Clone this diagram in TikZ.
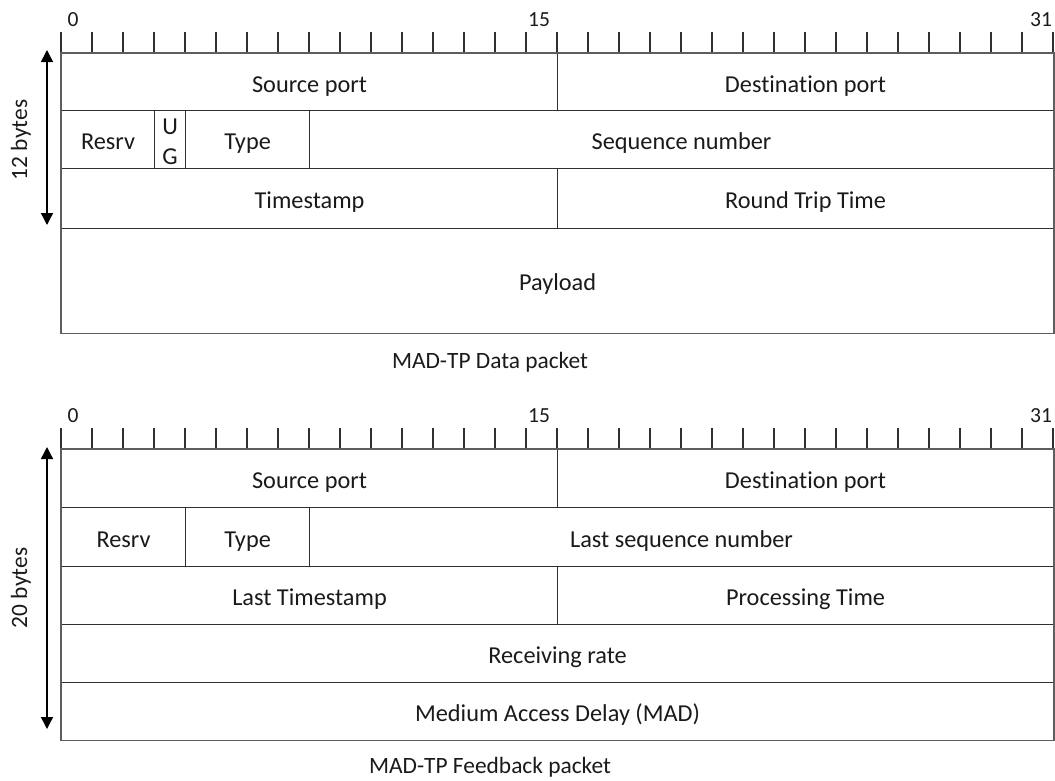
\documentclass[tikz,border=0pt]{standalone}
\usepackage{fontspec}
\setmainfont{Carlito}[Ligatures=NoCommon]
\usetikzlibrary{arrows.meta}
\definecolor{innerc}{HTML}{303030}
\definecolor{outerc}{HTML}{5E5E5E}
\definecolor{txtc}{HTML}{1A1A1A}
\tikzset{
  fieldbase/.style={draw=innerc, line width=1.1pt, anchor=north west, inner sep=0pt,
    text=txtc, font=\fontsize{24.3}{30}\selectfont, align=center},
  field/.style={fieldbase, text height=20.4pt, text depth=0pt},
  border/.style={draw=outerc, line width=1.6pt},
  tick/.style={draw=innerc, line width=1.1pt},
  bitnum/.style={text=txtc, font=\fontsize{21.5}{24}\selectfont, inner sep=0pt},
  caption/.style={text=txtc, font=\fontsize{23.4}{26}\selectfont, inner sep=0pt},
  bytelabel/.style={text=txtc, font=\fontsize{23.4}{26}\selectfont, inner sep=0pt, rotate=90},
  bytearrow/.style={draw=black, line width=1.4pt,
    {Triangle[length=12pt,width=12pt]}-{Triangle[length=12pt,width=12pt]}},
}
\newcommand{\fld}[7][field]{%
  \node[#1, minimum width={(#5-#3)*1pt}, minimum height={(#6-#4)*1pt}] (#2) at (#3,#4) {#7};}
\begin{document}
\begin{tikzpicture}[x=1pt,y=-1pt]
\useasboundingbox (0,0) rectangle (1055,780);
% ---------- Data packet ----------
\foreach \i in {0,...,32} \draw[tick] (61+31*\i,32) -- (61+31*\i,53);
\node[bitnum] (d0) at (73,20) {0};
\node[bitnum] (d15) at (539,20) {15};
\node[bitnum] (d31) at (1041,20) {31};
\fld{dsrc}{61}{53}{557}{110}{Source port}
\fld{ddst}{557}{53}{1053}{110}{Destination port}
\fld{dres}{61}{110}{154}{168}{Resrv}
\fld[fieldbase]{dug}{154}{110}{185}{168}{\rule{0pt}{21pt}U\\G}
\fld{dtype}{185}{110}{309}{168}{Type}
\fld{dseq}{309}{110}{1053}{168}{Sequence number}
\fld{dts}{61}{168}{557}{227.5}{Timestamp}
\fld{drtt}{557}{168}{1053}{227.5}{Round Trip Time}
\fld{dpay}{61}{227.5}{1053}{332.5}{Payload}
\draw[border] (dsrc.north west) rectangle (dpay.south east);
\coordinate (dat) at (47,50);
\coordinate (dab) at (47,225);
\draw[bytearrow] (dab) -- (dat);
\node[bytelabel] (dbl) at (21,140) {12 bytes};
\node[caption] (dcap) at (490,362) {MAD-TP Data packet};
% ---------- Feedback packet ----------
\foreach \i in {0,...,32} \draw[tick] (61+31*\i,428) -- (61+31*\i,449);
\node[bitnum] (f0) at (73,416) {0};
\node[bitnum] (f15) at (539,416) {15};
\node[bitnum] (f31) at (1041,416) {31};
\fld{fsrc}{61}{449}{557}{507}{Source port}
\fld{fdst}{557}{449}{1053}{507}{Destination port}
\fld{fres}{61}{507}{185}{566}{Resrv}
\fld{ftype}{185}{507}{309}{566}{Type}
\fld{fseq}{309}{507}{1053}{566}{Last sequence number}
\fld{fts}{61}{566}{557}{624}{Last Timestamp}
\fld{fpt}{557}{566}{1053}{624}{Processing Time}
\fld{frr}{61}{624}{1053}{682}{Receiving rate}
\fld{fmad}{61}{682}{1053}{739.5}{Medium Access Delay (MAD)}
\draw[border] (fsrc.north west) rectangle (fmad.south east);
\coordinate (fat) at (47,447);
\coordinate (fab) at (47,729);
\draw[bytearrow] (fab) -- (fat);
\node[bytelabel] (fbl) at (21,588) {20 bytes};
\node[caption] (fcap) at (490,767) {MAD-TP Feedback packet};
\end{tikzpicture}
\end{document}
